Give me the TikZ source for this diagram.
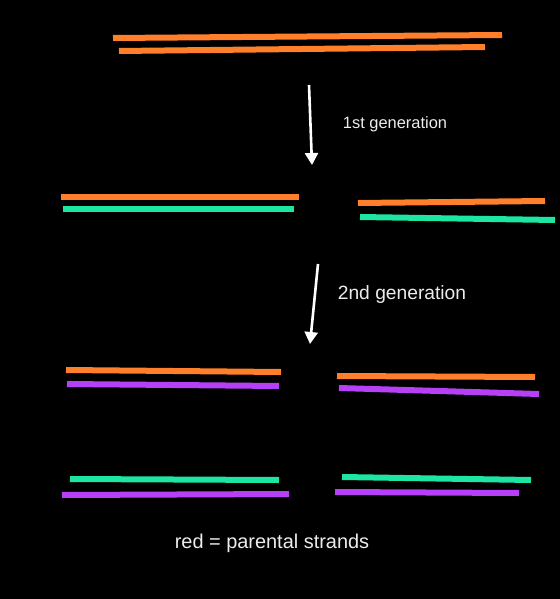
\documentclass[tikz,border=0pt]{standalone}
\usepackage{fontspec}
\setmainfont{Liberation Sans}
\usetikzlibrary{arrows.meta}
\definecolor{parentorange}{RGB}{255, 127, 42}
\definecolor{newgreen}{RGB}{29, 229, 163}
\definecolor{newpurple}{RGB}{181, 64, 245}
\definecolor{labelgray}{RGB}{236, 236, 236}

\begin{document}
\begin{tikzpicture}[
    x=1bp, y=-1bp,
    strand/.style={line width=6bp},
    parental/.style={strand, draw=parentorange},
    greenstrand/.style={strand, draw=newgreen},
    purplestrand/.style={strand, draw=newpurple},
    genarrow/.style={draw=white, line width=2.6bp, -{Triangle[width=13bp, length=12bp]}},
    lbl/.style={text=labelgray, inner sep=0pt}
]
\useasboundingbox (0,0) rectangle (560,599);
\fill[black] (-3,-3) rectangle (563,602);

% original duplex
\draw[parental] (113,38) -- (502,35);
\draw[parental] (119,51) -- (485,47);

% 1st generation
\coordinate (arr1top) at (309,85);
\coordinate (arr1tip) at (312,165);
\draw[genarrow] (arr1top) -- (arr1tip);
\node[lbl, font=\fontsize{16.5}{19}\selectfont] (gen1) at (395,124) {1st generation};

\draw[parental] (61,197) -- (299,197);
\draw[greenstrand] (63,209) -- (294,209);
\draw[parental] (358,203) -- (545,201);
\draw[greenstrand] (360,217) -- (555,220);

% 2nd generation
\coordinate (arr2top) at (318,264);
\coordinate (arr2tip) at (310,344);
\draw[genarrow] (arr2top) -- (arr2tip);
\node[lbl, font=\fontsize{19.3}{22}\selectfont] (gen2) at (402,295) {2nd generation};

\draw[parental] (66,370) -- (281,372);
\draw[purplestrand] (67,384) -- (279,386);
\draw[parental] (337,376) -- (535,377);
\draw[purplestrand] (339,388) -- (539,394);

\draw[greenstrand] (70,479) -- (279,480);
\draw[purplestrand] (62,495) -- (289,494);
\draw[greenstrand] (342,477) -- (531,480);
\draw[purplestrand] (335,492) -- (519,493);

\node[lbl, font=\fontsize{20}{23}\selectfont] (note) at (272,543) {red = parental strands};
\end{tikzpicture}
\end{document}
